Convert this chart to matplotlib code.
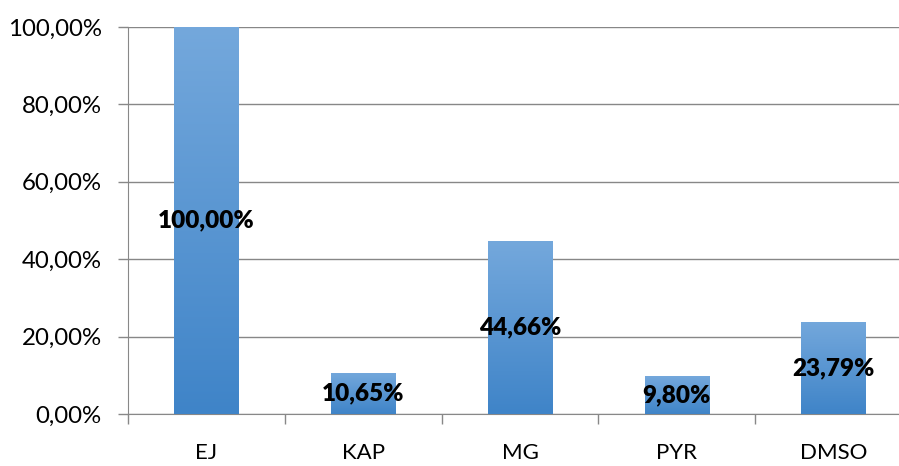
import numpy as np
import matplotlib.pyplot as plt
from matplotlib.colors import LinearSegmentedColormap

categories = ["EJ", "KAP", "MG", "PYR", "DMSO"]
values = [100.00, 10.65, 44.66, 9.80, 23.79]
yticks = [0, 20, 40, 60, 80, 100]

plt.rcParams['font.family'] = ['Lato', 'DejaVu Sans']

fig = plt.figure(figsize=(8.99, 4.66), dpi=100)
# right edge of the plot lies just outside the picture, as in the original
ax = fig.add_axes([128/899, 1 - 414/466, 784/899, 387/466])

x = np.arange(len(categories))
bars = ax.bar(x, values, width=0.41, color="#4a8fd3", zorder=2)

# vertical gradient, lighter at the top
grad = LinearSegmentedColormap.from_list("g", ["#3f84c8", "#74a8dc"])
for b in bars:
    bx, by = b.get_x(), b.get_y()
    w, h = b.get_width(), b.get_height()
    img = ax.imshow(np.linspace(0, 1, 256).reshape(-1, 1), cmap=grad,
                    extent=[bx, bx + w, by, by + h], origin="lower",
                    aspect="auto", zorder=3)
    img.set_clip_path(b)

for xi, v in zip(x, values):
    ax.text(xi, v / 2, "{:.2f}%".format(v).replace(".", ","), ha="center",
            va="center", fontsize=17.5, fontweight="heavy", zorder=4)

ax.set_xlim(-0.5, len(categories) - 0.5)
ax.set_ylim(0, 100)
ax.set_yticks(yticks)
ax.set_yticklabels(["{:.2f}%".format(t).replace(".", ",") for t in yticks], fontsize=17.3)
ax.set_xticks(x)
ax.set_xticklabels(categories, fontsize=16)
ax.set_xticks(np.arange(len(categories) + 1) - 0.5, minor=True)
ax.tick_params(axis="x", which="major", length=0, pad=21)
ax.tick_params(axis="x", which="minor", length=7, color="#888888", width=1)
ax.tick_params(axis="y", length=7, color="#888888", width=1, pad=12)
ax.grid(axis="y", color="#878787", linewidth=1, zorder=0)
for s in ["top", "right"]:
    ax.spines[s].set_visible(False)
ax.spines["left"].set_color("#888888")
ax.spines["bottom"].set_color("#888888")

fig.savefig("out.png", dpi=100)
